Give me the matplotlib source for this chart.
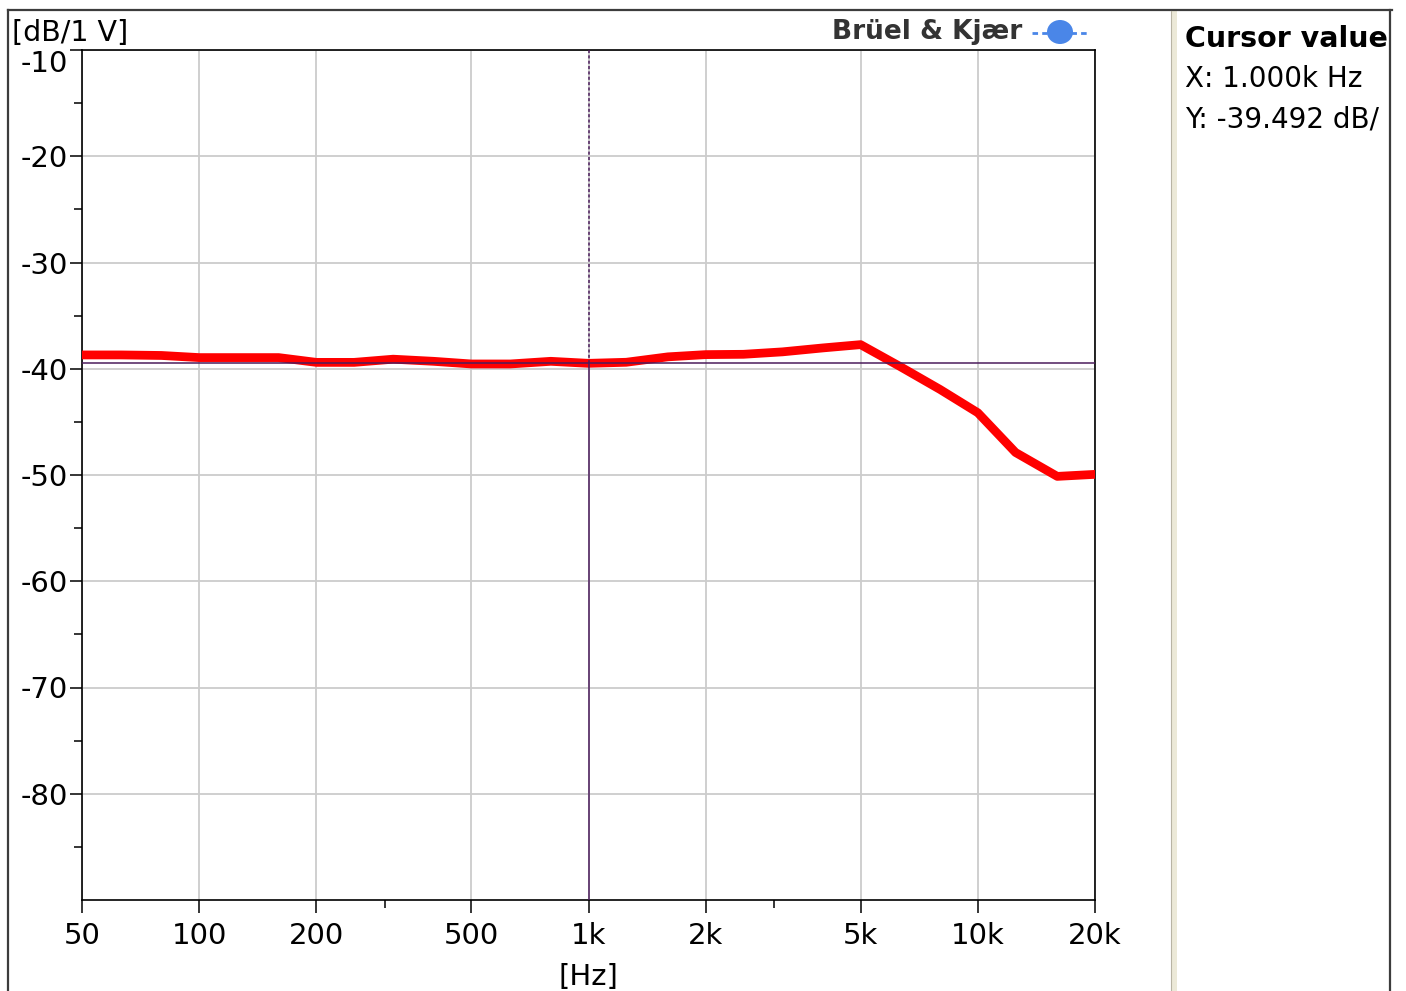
import numpy as np
import matplotlib.pyplot as plt
from matplotlib.patches import Ellipse, Rectangle
from matplotlib.lines import Line2D
from matplotlib.ticker import FixedLocator, NullFormatter

plt.rcParams["font.family"] = ["DejaVu Sans"]
plt.rcParams["font.size"] = 21
plt.rcParams["axes.unicode_minus"] = False

# third-octave band centres and measured level
FREQ = [50, 63, 80, 100, 125, 160, 200, 250, 315, 400, 500, 630, 800,
        1000, 1250, 1600, 2000, 2500, 3150, 4000, 5000, 6300, 8000,
        10000, 12500, 16000, 20000]
LEVEL = [-38.7, -38.7, -38.75, -38.95, -38.95, -38.95, -39.4, -39.4, -39.1,
         -39.3, -39.55, -39.55, -39.3, -39.49, -39.39, -38.88, -38.67,
         -38.64, -38.41, -38.04, -37.73, -39.77, -41.95, -44.14, -47.88,
         -50.13, -49.94]

XTICKS = [50, 100, 200, 500, 1000, 2000, 5000, 10000, 20000]
XLABELS = ['50', '100', '200', '500', '1k', '2k', '5k', '10k', '20k']
XMINOR = [300, 3000]
YTICKS = [-10, -20, -30, -40, -50, -60, -70, -80]
YMINOR = [-15, -25, -35, -45, -55, -65, -75, -85]

CURSOR_X = 1000
CURSOR_Y = -39.492

W, H = 1406, 991
fig = plt.figure(figsize=(W/100, H/100), dpi=100)

# frame of the window
fig.add_artist(Line2D([8/W, 1392/W], [1-10/H, 1-10/H], color='#3c3c3c', lw=1.6))
fig.add_artist(Line2D([8/W, 8/W], [0, 1-10/H], color='#3c3c3c', lw=1.6))
fig.add_artist(Line2D([1390/W, 1390/W], [0, 1-10/H], color='#3c3c3c', lw=1.6))
fig.add_artist(Rectangle((1171/W, 0), 6/W, 1-11/H, color='#ece9d8', lw=0))
fig.add_artist(Line2D([1171/W, 1171/W], [0, 1-11/H], color='#b8b4a4', lw=0.8))

ax = fig.add_axes([82/W, 1-900/H, (1095-82)/W, 850/H])
ax.set_xscale('log')
ax.set_xlim(50, 20000)
ax.set_ylim(-90, -10)

ax.set_xticks(XTICKS)
ax.set_xticklabels(XLABELS)
ax.xaxis.set_minor_locator(FixedLocator(XMINOR))
ax.xaxis.set_minor_formatter(NullFormatter())
ax.set_yticks(YTICKS)
ax.set_yticks(YMINOR, minor=True)

ax.grid(True, which='major', color='#cccccc', lw=1.3)
ax.tick_params(which='major', length=9, width=1.1, color='black')
ax.tick_params(which='minor', length=5.5, width=1.1, color='black')
ax.tick_params(axis='y', which='both', pad=1)
ax.tick_params(axis='x', which='major', pad=7)
for s in ax.spines.values():
    s.set_linewidth(1.2)
    s.set_color('black')

ax.plot(FREQ, LEVEL, color='#ff0000', lw=6.3, solid_joinstyle='round', zorder=3)

# cursor
ax.axhline(CURSOR_Y, color='#4b1c5c', lw=1.1, zorder=4)
ax.plot([CURSOR_X, CURSOR_X], [-10, CURSOR_Y], color='#4b1c5c', lw=1.1,
        linestyle=(0, (2, 1.5)), zorder=4)
ax.plot([CURSOR_X, CURSOR_X], [CURSOR_Y, -90], color='#4b1c5c', lw=1.1, zorder=4)

ax.set_xlabel('[Hz]', labelpad=9)
ylabs = ax.get_yticklabels()
ylabs[0].set_verticalalignment('top')

fig.text(12/W, 1-47/H, '[dB/1 V]', ha='left', va='bottom', fontsize=20.5)
fig.text(1022/W, 1-32/H, 'Brüel & Kjær', ha='right', va='center',
         fontsize=19, fontweight='bold', color='#333333')

# logo
fig.add_artist(Ellipse((1060/W, 1-32/H), 26/W, 24/H, color='#4a86e8', lw=0))
fig.add_artist(Line2D([1032/W, 1088/W], [1-33/H, 1-33/H], color='#4a86e8',
                      lw=2, linestyle=(0, (2, 1.5))))

# cursor panel
pw = 1389 - 1177
pan = fig.add_axes([1177/W, 0, pw/W, 1-11/H])
pan.set_axis_off()
ph = H - 11
pan.text(8/pw, 1-28/ph, 'Cursor value', transform=pan.transAxes,
         fontsize=20.5, fontweight='bold', va='center', ha='left')
pan.text(8/pw, 1-68/ph, 'X: 1.000k Hz', transform=pan.transAxes,
         fontsize=20, va='center', ha='left')
pan.text(8/pw, 1-108/ph, 'Y: -39.492 dB/', transform=pan.transAxes,
         fontsize=20, va='center', ha='left')

fig.savefig('out.png', dpi=100)
